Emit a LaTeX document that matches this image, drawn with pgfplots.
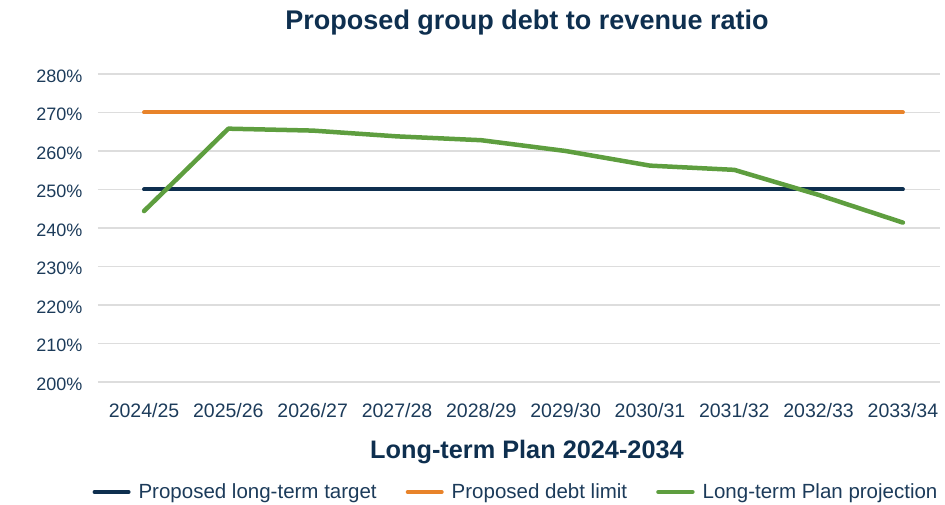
\documentclass[border=0pt]{standalone}
\usepackage{fontspec}
\setmainfont{Liberation Sans}
\usepackage{pgfplots}
\pgfplotsset{compat=1.18}
\definecolor{navy}{HTML}{0E2F4F}
\definecolor{txt}{HTML}{1C3B5A}
\definecolor{orng}{HTML}{E8832A}
\definecolor{grn}{HTML}{5E9E3F}
\definecolor{gridc}{HTML}{DDDDDD}
\pgfplotstableread{
x val
0 244.4
1 265.8
2 265.3
3 263.8
4 262.8
5 260.0
6 256.2
7 255.1
8 248.6
9 241.4
}\proj
\begin{document}
\begin{tikzpicture}[x=1pt,y=1pt]
\begin{axis}[
  name=ax,
  at={(0,0)}, anchor=south west,
  scale only axis, width=842pt, height=308pt,
  xmin=-0.546, xmax=9.44, ymin=200, ymax=280,
  ytick={200,210,...,280},
  yticklabel={\pgfmathprintnumber{\tick}\%},
  /pgf/number format/assume math mode=true,
  xtick={0,...,9},
  xticklabels={2024/25,2025/26,2026/27,2027/28,2028/29,2029/30,2030/31,2031/32,2032/33,2033/34},
  major tick length=0pt,
  axis line style={draw=none},
  ymajorgrids, xmajorgrids=false,
  y grid style={draw=gridc, line width=1.3pt},
  yticklabel style={font=\fontsize{18}{21}\selectfont, text=txt, anchor=east, xshift=-12pt, yshift=-2pt},
  xticklabel style={font=\fontsize{19.5}{23}\selectfont, text=txt, yshift=-18pt},
  title={\bfseries Proposed group debt to revenue ratio},
  title style={at={(axis description cs:0.5,1)}, anchor=center, yshift=45pt, xshift=8pt, font=\fontsize{27}{31}\selectfont, text=navy},
  xlabel={\bfseries Long-term Plan 2024-2034},
  xlabel style={at={(axis description cs:0.5,0)}, anchor=center, yshift=-70pt, xshift=8pt, font=\fontsize{25.3}{29}\selectfont, text=navy},
  legend style={at={(axis description cs:0.5,0)}, anchor=center, yshift=-110pt, xshift=-3pt, draw=none, fill=none,
    legend columns=3, font=\fontsize{20.5}{24}\selectfont, text=txt,
    /tikz/every odd column/.append style={column sep=6pt},
    /tikz/every even column/.append style={column sep=27pt}},
  legend image code/.code={\draw[#1, line cap=round] (0pt,0pt) -- (34pt,0pt);},
  clip=false,
]
\addplot[navy, line width=4pt, line cap=round] coordinates {(0,250) (9,250)};
\addlegendentry{Proposed long-term target}
\addplot[orng, line width=4pt, line cap=round] coordinates {(0,270) (9,270)};
\addlegendentry{Proposed debt limit}
\addplot[grn, line width=4.5pt, line cap=round, line join=round] table[x=x,y=val] {\proj};
\addlegendentry{Long-term Plan projection}
\end{axis}
\path (ax.south west) ++(-98,-122) rectangle ++(945,504);
\end{tikzpicture}
\end{document}
